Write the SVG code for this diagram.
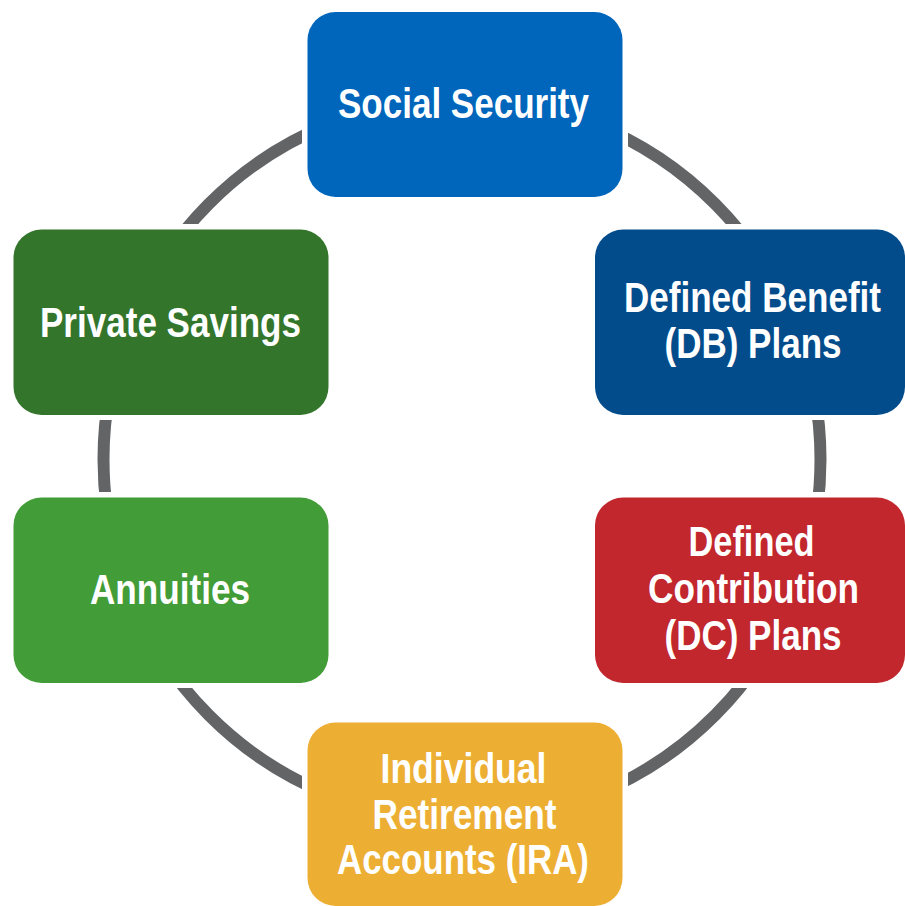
<svg xmlns="http://www.w3.org/2000/svg" width="905" height="906" viewBox="0 0 905 906">
  <style>
    .box { stroke: none; }
    .lbl { font-family: "Liberation Sans Narrow", "Liberation Sans", Arial, sans-serif; font-weight: bold; font-size: 43px; fill: #ffffff; text-anchor: middle; }
    .ring { fill: none; stroke: #636466; stroke-width: 12; }
  </style>
  <defs>
    <mask id="gapMask" maskUnits="userSpaceOnUse" x="0" y="0" width="905" height="906">
      <rect x="0" y="0" width="905" height="906" fill="#fff"/>
      <g fill="#000">
        <rect x="302" y="6.5" width="326" height="196" rx="33"/>
        <rect x="589.5" y="224" width="326" height="196" rx="33"/>
        <rect x="589.5" y="492" width="326" height="196" rx="33"/>
        <rect x="302" y="717" width="326" height="196" rx="33"/>
        <rect x="8" y="492" width="326" height="196" rx="33"/>
        <rect x="8" y="224" width="326" height="196" rx="33"/>
      </g>
    </mask>
  </defs>
  <rect x="0" y="0" width="905" height="906" fill="#ffffff"/>
  <g id="connectors">
    <ellipse class="ring" cx="462" cy="459.5" rx="358.5" ry="361" mask="url(#gapMask)"/>
  </g>
  <g id="social-security">
    <rect class="box" x="307.5" y="12" width="315" height="185" rx="28" fill="#0066BC"/>
    <text class="lbl" x="463.5" y="118" textLength="251" lengthAdjust="spacingAndGlyphs">Social Security</text>
  </g>
  <g id="db-plans">
    <rect class="box" x="595" y="229.5" width="310" height="185.5" rx="28" fill="#034C8C"/>
    <text class="lbl" x="752.5" y="312" textLength="257" lengthAdjust="spacingAndGlyphs">Defined Benefit</text>
    <text class="lbl" x="753" y="357.5" textLength="177" lengthAdjust="spacingAndGlyphs">(DB) Plans</text>
  </g>
  <g id="dc-plans">
    <rect class="box" x="595" y="497.5" width="310" height="185.5" rx="28" fill="#C1272D"/>
    <text class="lbl" x="751.5" y="556" textLength="126" lengthAdjust="spacingAndGlyphs">Defined</text>
    <text class="lbl" x="753.5" y="603" textLength="211" lengthAdjust="spacingAndGlyphs">Contribution</text>
    <text class="lbl" x="753" y="650" textLength="177" lengthAdjust="spacingAndGlyphs">(DC) Plans</text>
  </g>
  <g id="ira">
    <rect class="box" x="307.5" y="722.5" width="315" height="183.5" rx="28" fill="#EDAF33"/>
    <text class="lbl" x="463.5" y="783" textLength="166" lengthAdjust="spacingAndGlyphs">Individual</text>
    <text class="lbl" x="464.5" y="828.5" textLength="184" lengthAdjust="spacingAndGlyphs">Retirement</text>
    <text class="lbl" x="463" y="874" textLength="252" lengthAdjust="spacingAndGlyphs">Accounts (IRA)</text>
  </g>
  <g id="annuities">
    <rect class="box" x="13.5" y="497.5" width="315" height="185.5" rx="28" fill="#429C37"/>
    <text class="lbl" x="170" y="604" textLength="160" lengthAdjust="spacingAndGlyphs">Annuities</text>
  </g>
  <g id="private-savings">
    <rect class="box" x="13.5" y="229.5" width="315" height="185.5" rx="28" fill="#33752B"/>
    <text class="lbl" x="170.5" y="337" textLength="261" lengthAdjust="spacingAndGlyphs">Private Savings</text>
  </g>
</svg>
